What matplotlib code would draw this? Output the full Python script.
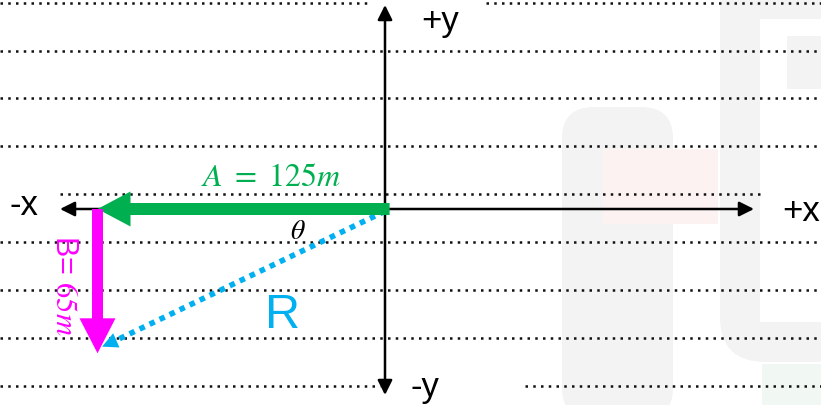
import matplotlib.pyplot as plt
from matplotlib.patches import FancyArrow, FancyBboxPatch, Rectangle

plt.rcParams['font.family'] = ['Liberation Sans', 'DejaVu Sans']
plt.rcParams['mathtext.fontset'] = 'stix'

# ---------------- data ----------------
A_mag = 125          # m, towards -x
B_mag = 65           # m, towards -y
A_vec = (-A_mag, 0)
B_vec = (0, -B_mag)
R_vec = (A_vec[0] + B_vec[0], A_vec[1] + B_vec[1])

axis_labels = ['-x', '+x', '+y', '-y']

# layout (picture drawn in metres, origin at the axis cross)
SX, SY = 2.3, 2.22     # px per metre
OX, OY = 385, 210
W, H = 821, 406


def mx(xp):
    return (xp - OX) / SX


def my(yp):
    return (OY - yp) / SY


# dotted guide lines: pixel row -> list of (x0, x1) pixel segments
guide_rows = {4: [(0, 370), (486, 821)], 52: [(0, 821)], 99: [(0, 821)],
              147: [(0, 821)], 195: [(60, 762)], 243: [(0, 821)],
              291: [(0, 821)], 339: [(0, 821)], 387: [(0, 380), (525, 821)]}

fig = plt.figure(figsize=(W / 100, H / 100), dpi=100)
ax = fig.add_axes([0, 0, 1, 1])
ax.set_xlim(mx(0), mx(W))
ax.set_ylim(my(H), my(0))
ax.axis('off')

# ---------------- faint watermark ----------------
wm = '#f3f3f3'
ax.add_patch(FancyBboxPatch((mx(562), my(420)), (673 - 562) / SX, (420 - 108) / SY,
                            boxstyle='round,pad=0,rounding_size=14', fc=wm, ec='none', zorder=0))
ax.add_patch(Rectangle((mx(603), my(225)), (718 - 603) / SX, 75 / SY, fc='#fdf2f2', ec='none', zorder=0))
ax.add_patch(FancyBboxPatch((mx(720), my(363)), 140 / SX, 400 / SY,
                            boxstyle='round,pad=0,rounding_size=20', fc=wm, ec='none', zorder=0))
ax.add_patch(Rectangle((mx(760), my(323)), 70 / SX, 303 / SY, fc='white', ec='none', zorder=0))
ax.add_patch(Rectangle((mx(787), my(90)), 40 / SX, 53 / SY, fc=wm, ec='none', zorder=0))
ax.add_patch(Rectangle((mx(762), my(410)), 70 / SX, 45 / SY, fc='#f1f8f3', ec='none', zorder=0))

# ---------------- dotted guide lines ----------------
for yp, segs in guide_rows.items():
    for x0, x1 in segs:
        ax.plot([mx(x0), mx(x1)], [my(yp), my(yp)], color='#111111', lw=1.8,
                ls=(0, (1, 2.1)), dash_capstyle='butt', zorder=1)

# ---------------- coordinate axes ----------------
ax.annotate('', xy=(mx(60), 0), xytext=(mx(754), 0),
            arrowprops=dict(arrowstyle='<|-|>', color='black', lw=1.8,
                            mutation_scale=22, shrinkA=0, shrinkB=0), zorder=2)
ax.annotate('', xy=(0, my(6)), xytext=(0, my(396)),
            arrowprops=dict(arrowstyle='<|-|>', color='black', lw=1.8,
                            mutation_scale=22, shrinkA=0, shrinkB=0), zorder=2)

ax.text(mx(24), my(206), axis_labels[0], fontsize=25, ha='center', va='center')
ax.text(mx(801), my(212), axis_labels[1], fontsize=25, ha='center', va='center')
ax.text(mx(440), my(22), axis_labels[2], fontsize=25, ha='center', va='center')
ax.text(mx(425), my(388), axis_labels[3], fontsize=25, ha='center', va='center')

# ---------------- vectors ----------------
green = '#00B050'
magenta = '#FF00FF'
blue = '#00B0F0'

ax.add_patch(FancyArrow(2, 0, A_vec[0] - 2, A_vec[1], width=12 / SY, head_width=35 / SY,
                        head_length=33 / SX, length_includes_head=True,
                        color=green, lw=0, zorder=4))
ax.add_patch(FancyArrow(A_vec[0], 0, B_vec[0], B_vec[1], width=11 / SX, head_width=36 / SX,
                        head_length=35 / SY, length_includes_head=True,
                        color=magenta, lw=0, zorder=4))

# resultant R (dotted) with small head
tip = (R_vec[0] + 2, R_vec[1] + 3)
ax.plot([0, tip[0] + 3], [-1, tip[1] + 1.3], color=blue, lw=4, ls=(0, (1, 1)),
        dash_capstyle='butt', zorder=3)
ax.annotate('', xy=tip, xytext=(tip[0] + 7, tip[1] + 3.2),
            arrowprops=dict(arrowstyle='-|>', color=blue, lw=0, mutation_scale=28,
                            shrinkA=0, shrinkB=0), zorder=5)

# ---------------- labels ----------------
ax.text(mx(271), my(178), r'$A\ =\ 125m$', color=green, fontsize=23, ha='center', va='center')
ax.text(mx(64), my(285), r'B= $65m$', color=magenta, fontsize=22, rotation=270,
        ha='center', va='center')
ax.text(mx(283), my(316), 'R', color=blue, fontsize=35, ha='center', va='center')
ax.text(mx(298), my(232), r'$\theta$', color='black', fontsize=20, ha='center', va='center')

fig.savefig('out.png', dpi=100)
